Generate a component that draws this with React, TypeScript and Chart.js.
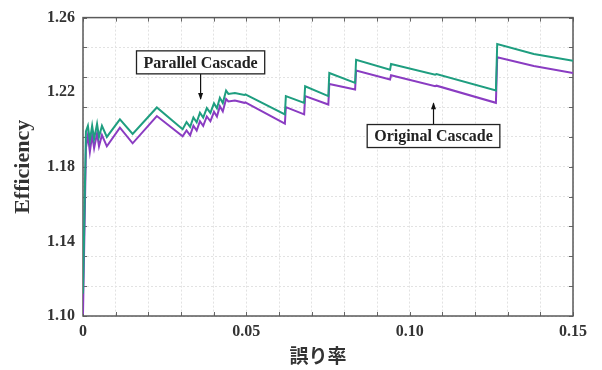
import { useEffect, useRef } from 'react';
import { Chart, registerables } from 'chart.js';

Chart.register(...registerables);

// error rate (x)
const errRate = [
  0.0, 0.0009, 0.0015, 0.0021, 0.0028, 0.0034, 0.0043, 0.0049, 0.0058, 0.0073,
  0.0113, 0.0152, 0.0226, 0.0305, 0.0317, 0.0328, 0.0338, 0.0348, 0.0358, 0.0368,
  0.0379, 0.039, 0.0401, 0.041, 0.0419, 0.0428, 0.0438, 0.0445, 0.0465, 0.0494,
  0.0497, 0.0618, 0.0621, 0.0677, 0.068, 0.0751, 0.0754, 0.0833, 0.0836, 0.094,
  0.0943, 0.1078, 0.1082, 0.1264, 0.1268, 0.138, 0.15,
];
// Parallel Cascade efficiency (green)
const parallelEff = [
  1.112, 1.199, 1.202, 1.194, 1.202, 1.195, 1.203, 1.196, 1.202, 1.196,
  1.2054, 1.1976, 1.2118, 1.2001, 1.204, 1.2014, 1.2065, 1.2039, 1.209, 1.2064,
  1.2115, 1.2089, 1.214, 1.2114, 1.217, 1.2142, 1.2209, 1.2191, 1.2196, 1.2185,
  1.2188, 1.2081, 1.2179, 1.2143, 1.2232, 1.2179, 1.2303, 1.225, 1.2374, 1.2321,
  1.2351, 1.2294, 1.2297, 1.2209, 1.2458, 1.2405, 1.2369,
];
// Original Cascade efficiency (purple)
const originalEff = [
  1.101, 1.19, 1.197, 1.188, 1.197, 1.19, 1.198, 1.191, 1.197, 1.191,
  1.201, 1.1926, 1.2072, 1.1963, 1.1995, 1.1969, 1.202, 1.1994, 1.2045, 1.2019,
  1.207, 1.2044, 1.2095, 1.2069, 1.2125, 1.2097, 1.2163, 1.215, 1.2155, 1.2143,
  1.2146, 1.2031, 1.212, 1.2081, 1.2179, 1.2134, 1.2244, 1.2214, 1.2316, 1.2268,
  1.2291, 1.2232, 1.2235, 1.2143, 1.2387, 1.234, 1.2303,
];

const xGridValues = [0, 0.01, 0.02, 0.03, 0.04, 0.05, 0.06, 0.07, 0.08, 0.09, 0.1, 0.11, 0.12, 0.13, 0.14, 0.15];
const xTickLabels = [0, 0.05, 0.1, 0.15];
const yGridValues = [1.1, 1.116, 1.132, 1.148, 1.164, 1.18, 1.196, 1.212, 1.228, 1.244, 1.26];
const yTickLabels = [1.1, 1.14, 1.18, 1.22, 1.26];

const annoParallel = { text: 'Parallel Cascade', boxX: 0.036, boxY: 1.236, tipX: 0.036, tipY: 1.2163 };
const annoOriginal = { text: 'Original Cascade', boxX: 0.1073, boxY: 1.1965, tipX: 0.1073, tipY: 1.2141 };

const SERIF = "'Liberation Serif', 'DejaVu Serif', serif";
const GREEN = '#1f9e80';
const PURPLE = '#8a3cc2';

const near = (arr: number[], v: number) => arr.some((a) => Math.abs(a - v) < 1e-6);

const decorPlugin = {
  id: 'decor',
  beforeDatasetsDraw(chart: any) {
    const { ctx, chartArea: a, scales } = chart;
    const xs = scales.x;
    const ys = scales.y;
    ctx.save();
    ctx.strokeStyle = '#666';
    ctx.lineWidth = 1;
    ctx.beginPath();
    xGridValues.forEach((v) => {
      const px = Math.round(xs.getPixelForValue(v)) + 0.5;
      ctx.moveTo(px, a.bottom);
      ctx.lineTo(px, a.bottom - 4);
      ctx.moveTo(px, a.top);
      ctx.lineTo(px, a.top + 4);
    });
    yGridValues.forEach((v) => {
      const py = Math.round(ys.getPixelForValue(v)) + 0.5;
      ctx.moveTo(a.left, py);
      ctx.lineTo(a.left + 4, py);
      ctx.moveTo(a.right, py);
      ctx.lineTo(a.right - 4, py);
    });
    ctx.stroke();
    ctx.lineWidth = 1.5;
    ctx.strokeStyle = '#5a5a5a';
    ctx.strokeRect(a.left, a.top, a.right - a.left, a.bottom - a.top);
    ctx.restore();
  },
  afterDatasetsDraw(chart: any) {
    const { ctx, chartArea: a, scales } = chart;
    const xs = scales.x;
    const ys = scales.y;
    ctx.save();
    const drawBox = (an: any, arrowUp: boolean) => {
      ctx.font = `bold 16px ${SERIF}`;
      const w = ctx.measureText(an.text).width + 14;
      const h = 23;
      const cx = xs.getPixelForValue(an.boxX);
      const cy = ys.getPixelForValue(an.boxY);
      const tx = xs.getPixelForValue(an.tipX);
      const ty = ys.getPixelForValue(an.tipY);
      ctx.strokeStyle = '#111';
      ctx.fillStyle = '#111';
      ctx.lineWidth = 1.2;
      const startY = arrowUp ? cy - h / 2 : cy + h / 2;
      ctx.beginPath();
      ctx.moveTo(tx, startY);
      ctx.lineTo(tx, ty);
      ctx.stroke();
      ctx.beginPath();
      if (arrowUp) {
        ctx.moveTo(tx, ty - 1);
        ctx.lineTo(tx - 2.5, ty + 6);
        ctx.lineTo(tx + 2.5, ty + 6);
      } else {
        ctx.moveTo(tx, ty + 1);
        ctx.lineTo(tx - 2.5, ty - 6);
        ctx.lineTo(tx + 2.5, ty - 6);
      }
      ctx.closePath();
      ctx.fill();
      ctx.fillStyle = '#fff';
      ctx.fillRect(cx - w / 2, cy - h / 2, w, h);
      ctx.strokeStyle = '#222';
      ctx.lineWidth = 1.3;
      ctx.strokeRect(cx - w / 2, cy - h / 2, w, h);
      ctx.fillStyle = '#222';
      ctx.textAlign = 'center';
      ctx.textBaseline = 'middle';
      ctx.fillText(an.text, cx, cy + 1);
    };
    drawBox(annoParallel, false);
    drawBox(annoOriginal, true);
    ctx.font = `bold 19px 'Noto Sans CJK JP', sans-serif`;
    ctx.fillStyle = '#333';
    ctx.textAlign = 'center';
    ctx.textBaseline = 'middle';
    ctx.fillText('誤り率', (a.left + a.right) / 2 - 10, 356);
    ctx.restore();
  },
};

export default function App() {
  const ref = useRef<HTMLCanvasElement>(null);
  useEffect(() => {
    const gridColor = (vals: number[]) => (c: any) =>
      c.tick && near(vals, c.tick.value) ? '#e2e2e2' : 'rgba(0,0,0,0)';
    const chart = new Chart(ref.current as HTMLCanvasElement, {
      type: 'line',
      data: {
        datasets: [
          {
            label: 'Parallel Cascade',
            data: errRate.map((x, i) => ({ x, y: parallelEff[i] })),
            borderColor: GREEN,
            borderWidth: 2,
            pointRadius: 0,
            tension: 0,
          },
          {
            label: 'Original Cascade',
            data: errRate.map((x, i) => ({ x, y: originalEff[i] })),
            borderColor: PURPLE,
            borderWidth: 2,
            pointRadius: 0,
            tension: 0,
          },
        ],
      },
      options: {
        animation: false,
        responsive: false,
        maintainAspectRatio: false,
        layout: { padding: { top: 16, right: 29, left: 0, bottom: 0 } },
        plugins: { legend: { display: false }, tooltip: { enabled: false } },
        scales: {
          x: {
            type: 'linear',
            min: 0,
            max: 0.15,
            afterBuildTicks: (s: any) => {
              const all = Array.from(new Set([...xGridValues, ...xTickLabels])).sort((p, q) => p - q);
              s.ticks = all.map((v) => ({ value: v }));
            },
            afterFit: (s: any) => {
              s.height = 54;
            },
            grid: { color: gridColor(xGridValues), drawTicks: false, lineWidth: 1 },
            border: { display: false, dash: [2, 2] },
            ticks: {
              autoSkip: false,
              maxRotation: 0,
              padding: 6,
              color: '#333',
              font: { family: SERIF, size: 16, weight: 'bold' },
              callback: (v: any) => {
                const n = Number(v);
                if (!near(xTickLabels, n)) return '';
                return n === 0 ? '0' : n.toFixed(2);
              },
            },
          },
          y: {
            type: 'linear',
            min: 1.1,
            max: 1.26,
            afterBuildTicks: (s: any) => {
              const all = Array.from(new Set([...yGridValues, ...yTickLabels])).sort((p, q) => p - q);
              s.ticks = all.map((v) => ({ value: v }));
            },
            afterFit: (s: any) => {
              s.width = 83;
            },
            grid: { color: gridColor(yGridValues), drawTicks: false, lineWidth: 1 },
            border: { display: false, dash: [2, 2] },
            title: {
              display: true,
              text: 'Efficiency',
              color: '#333',
              font: { family: SERIF, size: 22, weight: 'bold' },
              padding: { top: 10, bottom: 0 },
            },
            ticks: {
              autoSkip: false,
              padding: 8,
              color: '#333',
              font: { family: SERIF, size: 16, weight: 'bold' },
              callback: (v: any) => {
                const n = Number(v);
                if (!near(yTickLabels, n)) return '';
                return n.toFixed(2);
              },
            },
          },
        },
      },
      plugins: [decorPlugin],
    } as any);
    return () => chart.destroy();
  }, []);
  return (
    <div style={{ position: 'fixed', left: 0, top: 0, width: 602, height: 370, background: '#fff' }}>
      <canvas ref={ref} width={602} height={370} style={{ width: 602, height: 370, display: 'block' }} />
    </div>
  );
}
